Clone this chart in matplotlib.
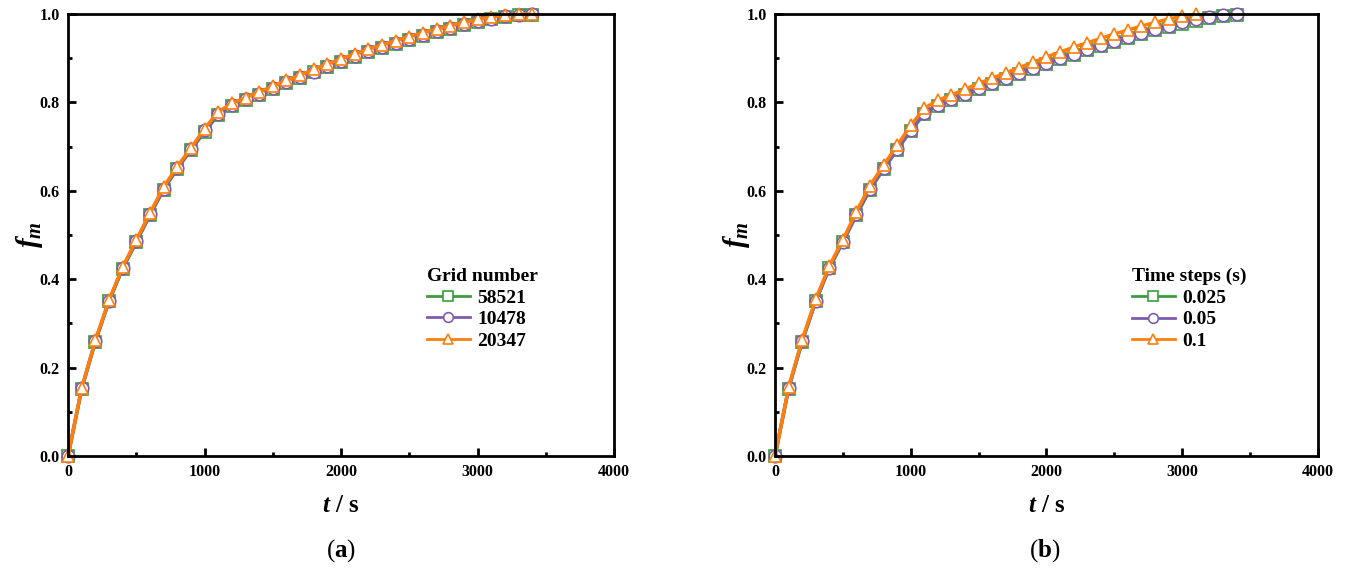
import numpy as np
import matplotlib
matplotlib.use('Agg')
import matplotlib.pyplot as plt
from matplotlib.ticker import MultipleLocator

plt.rcParams['font.family'] = 'Liberation Serif'
plt.rcParams['font.weight'] = 'bold'
plt.rcParams['mathtext.fontset'] = 'custom'
plt.rcParams['mathtext.rm'] = 'Liberation Serif:bold'
plt.rcParams['mathtext.it'] = 'Liberation Serif:italic:bold'
plt.rcParams['mathtext.bf'] = 'Liberation Serif:bold'

# ── (a) grid independence ───────────────────────────
t_a = np.arange(0, 3500, 100)
grid_labels = ['58521', '10478', '20347']
fm_grid_58521 = [0.0, 0.152, 0.259, 0.350, 0.424, 0.484, 0.545, 0.603, 0.650, 0.692,
                 0.734, 0.772, 0.792, 0.805, 0.818, 0.831, 0.844, 0.856, 0.868, 0.880,
                 0.892, 0.903, 0.914, 0.923, 0.933, 0.942, 0.951, 0.959, 0.967, 0.975,
                 0.982, 0.988, 0.993, 0.997, 0.999]
fm_grid_10478 = [0.0, 0.153, 0.260, 0.351, 0.426, 0.486, 0.547, 0.605, 0.652, 0.694,
                 0.737, 0.775, 0.794, 0.807, 0.820, 0.833, 0.846, 0.858, 0.870, 0.882,
                 0.894, 0.905, 0.916, 0.925, 0.935, 0.944, 0.953, 0.961, 0.969, 0.977,
                 0.984, 0.990, 0.995, 0.998, 1.0]
fm_grid_20347 = [0.0, 0.154, 0.262, 0.353, 0.428, 0.489, 0.550, 0.609, 0.655, 0.697,
                 0.741, 0.779, 0.798, 0.811, 0.824, 0.837, 0.850, 0.862, 0.875, 0.887,
                 0.899, 0.910, 0.921, 0.930, 0.940, 0.949, 0.958, 0.966, 0.974, 0.981,
                 0.988, 0.993, 0.998, 1.0, 1.0]

# ── (b) time-step independence ──────────────────────
step_labels = ['0.025', '0.05', '0.1']
t_b_0025 = np.arange(0, 3500, 100)
t_b_005 = np.arange(0, 3500, 100)
t_b_01 = np.arange(0, 3200, 100)
fm_dt_0025 = [0.0, 0.152, 0.259, 0.350, 0.425, 0.484, 0.545, 0.603, 0.649, 0.693,
              0.736, 0.774, 0.793, 0.805, 0.817, 0.830, 0.842, 0.854, 0.865, 0.876,
              0.887, 0.898, 0.908, 0.918, 0.928, 0.937, 0.946, 0.955, 0.963, 0.971,
              0.978, 0.985, 0.991, 0.995, 0.997]
fm_dt_005 = [0.0, 0.153, 0.260, 0.351, 0.426, 0.485, 0.547, 0.605, 0.651, 0.695,
             0.738, 0.776, 0.795, 0.807, 0.819, 0.832, 0.844, 0.856, 0.867, 0.878,
             0.889, 0.900, 0.910, 0.920, 0.930, 0.940, 0.949, 0.958, 0.966, 0.974,
             0.981, 0.988, 0.994, 0.998, 1.0]
fm_dt_01 = [0.0, 0.155, 0.263, 0.355, 0.430, 0.489, 0.553, 0.612, 0.658, 0.703,
            0.748, 0.787, 0.805, 0.817, 0.830, 0.843, 0.855, 0.867, 0.879, 0.891,
            0.903, 0.914, 0.925, 0.935, 0.945, 0.955, 0.964, 0.973, 0.981, 0.989,
            0.995, 1.0]

colors = ['#3d9b3d', '#7d5cb0', '#ff7f0e']
markers = ['s', 'o', '^']

fig = plt.figure(figsize=(13.45, 5.68), dpi=100)
ax1 = fig.add_axes([0.0506, 0.1972, 0.406, 0.778])
ax2 = fig.add_axes([0.5762, 0.1972, 0.4037, 0.778])


def draw(ax, series, labels, title):
    for (t, fm), lab, c, m in zip(series, labels, colors, markers):
        ax.plot(t, fm, color=c, lw=2.5, marker=m, ms=9, mfc='white',
                mec=c, mew=1.2, label=lab, clip_on=False)
    ax.set_xlim(0, 4000)
    ax.set_ylim(0, 1.0)
    ax.xaxis.set_major_locator(MultipleLocator(1000))
    ax.xaxis.set_minor_locator(MultipleLocator(500))
    ax.yaxis.set_major_locator(MultipleLocator(0.2))
    ax.yaxis.set_minor_locator(MultipleLocator(0.1))
    ax.yaxis.set_major_formatter(lambda v, p: f'{v:.1f}')
    ax.tick_params(which='both', direction='in', top=False, right=False,
                   labelsize=11.5, width=2)
    ax.tick_params(which='major', length=6, pad=6)
    ax.tick_params(which='minor', length=3)
    for s in ax.spines.values():
        s.set_linewidth(2)
    ax.set_xlabel(r'$t$ / s', fontsize=18, fontweight='bold', labelpad=10)
    ax.set_ylabel(r'$f_m$', fontsize=21, labelpad=-4)
    leg = ax.legend(loc='upper left', bbox_to_anchor=(0.625, 0.465), frameon=False,
                    title=title, fontsize=14, title_fontsize=14,
                    handlelength=2.2, handletextpad=0.4, labelspacing=0.2)
    leg._legend_box.align = 'left'
    leg.get_title().set_fontweight('bold')
    for h in leg.legend_handles:
        h.set_markersize(7)
        h.set_linewidth(2)


draw(ax1, [(t_a, fm_grid_58521), (t_a, fm_grid_10478), (t_a, fm_grid_20347)],
     grid_labels, 'Grid number')
draw(ax2, [(t_b_0025, fm_dt_0025), (t_b_005, fm_dt_005), (t_b_01, fm_dt_01)],
     step_labels, 'Time steps (s)')

fig.text(0.2535, 0.02, r'($\mathbf{a}$)', ha='center', fontsize=18, fontweight='normal')
fig.text(0.777, 0.02, r'($\mathbf{b}$)', ha='center', fontsize=18, fontweight='normal')

plt.savefig('out.png', dpi=100)
